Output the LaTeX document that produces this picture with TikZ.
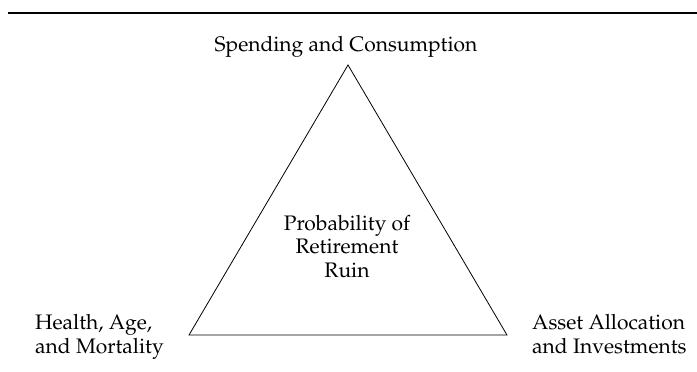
\documentclass[tikz,border=0pt]{standalone}
\usepackage[T1]{fontenc}
\usepackage{mathpazo}
\begin{document}
\begin{tikzpicture}[x=1pt,y=-1pt,
  lbl/.style={inner sep=0pt,font=\fontsize{21}{24}\selectfont,align=left},
  clbl/.style={inner sep=0pt,font=\fontsize{21}{23.5}\selectfont,align=center},
  tri/.style={line width=0.8pt,line join=miter}]
\useasboundingbox (0,0) rectangle (697,372);
\coordinate (r1) at (8,12.5);
\coordinate (r2) at (697,12.5);
\draw[line width=2pt] (r1) -- (r2);
\coordinate (A) at (348,65);
\coordinate (B) at (189,335);
\coordinate (C) at (507,335);
\draw[tri] (A) -- (B) -- (C) -- cycle;
\node[clbl,anchor=base] (top) at (346,51) {Spending and Consumption};
\node[clbl,anchor=base] (mid) at (347,277) {Probability of\\Retirement\\Ruin};
\node[lbl,anchor=base west] (left) at (35,353) {Health, Age,\\and Mortality};
\node[lbl,anchor=base west] (right) at (532,353) {Asset Allocation\\and Investments};
\end{tikzpicture}
\end{document}
